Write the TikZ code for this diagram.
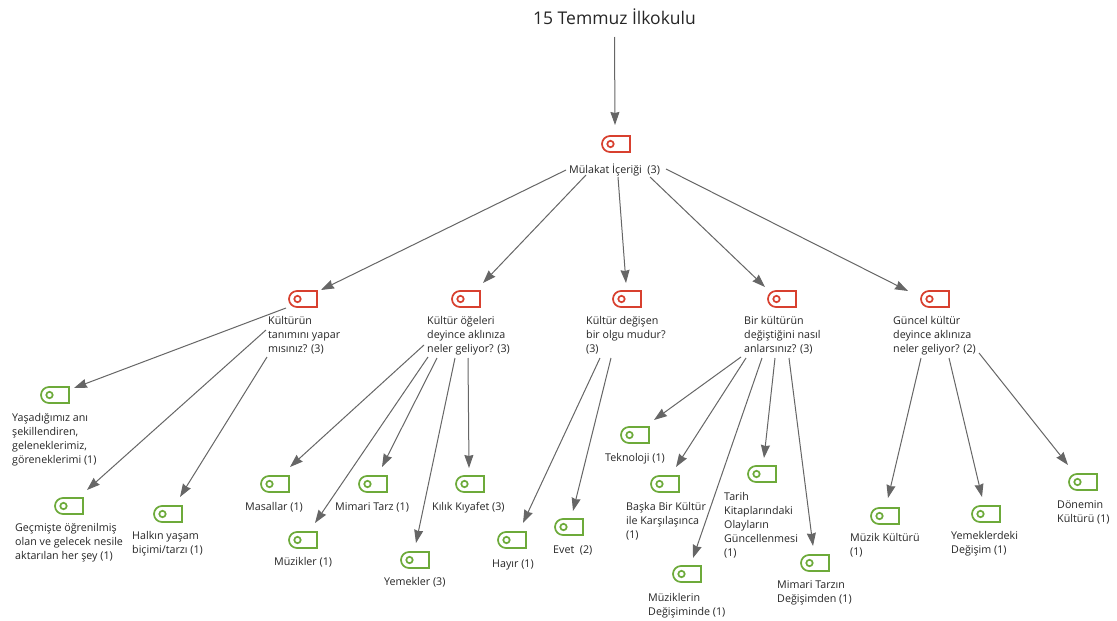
\documentclass[tikz,border=0pt]{standalone}
\usepackage{fontspec}
\setmainfont{Open Sans}
\usetikzlibrary{arrows.meta}
\definecolor{tagred}{HTML}{D8402F}
\definecolor{taggreen}{HTML}{6DAA3A}
\definecolor{linkgray}{HTML}{666666}
\definecolor{txt}{HTML}{262626}
\tikzset{
  lbl/.style={anchor=north west,inner xsep=0pt,inner ysep=3.5pt,align=left,font=\fontsize{10.7}{13.8}\selectfont,text=txt},
  iconbox/.style={minimum width=28pt,minimum height=16pt,inner sep=0pt},
  conn/.style={draw=linkgray,line width=1pt,-{Stealth[length=13pt,width=9pt,inset=1pt]}}
}
\newcommand{\tagicon}[4]{%
  \node[iconbox] (#1) at (#2,#3) {};
  \draw[#4,line width=1.7pt] ([shift={(-6,-8)}]#1.center) -- ([shift={(14,-8)}]#1.center) -- ([shift={(14,8)}]#1.center) -- ([shift={(-6,8)}]#1.center) arc[start angle=-90,end angle=-270,radius=8pt] -- cycle;
  \draw[#4,line width=1.7pt] ([shift={(-5.5,0)}]#1.center) circle[radius=3.2pt];
}
\newcommand{\linkit}[6]{\draw[conn] ([shift={(#2,#3)}]#1) -- ([shift={(#5,#6)}]#4.center);}
\begin{document}
\begin{tikzpicture}[x=1pt,y=-1pt]
\useasboundingbox (0,0) rectangle (1117,621);
\fill[white] (0,0) rectangle (1117,621);
\node[inner sep=0pt,font=\fontsize{17.5}{20}\selectfont,text=txt] (t) at (614.5,17) {15 Temmuz İlkokulu};
\tagicon{r}{616}{144}{tagred}
\node[lbl] (m) at (569,160) {Mülakat İçeriği~ (3)};
\tagicon{k1}{303}{299}{tagred}
\tagicon{k2}{466}{299}{tagred}
\tagicon{k3}{627}{299}{tagred}
\tagicon{k4}{782}{299}{tagred}
\tagicon{k5}{935}{299}{tagred}
\node[lbl] (l1) at (268,313) {Kültürün\\tanımını yapar\\mısınız? (3)};
\node[lbl] (l2) at (427,313) {Kültür öğeleri\\deyince aklınıza\\neler geliyor? (3)};
\node[lbl] (l3) at (586,313) {Kültür değişen\\bir olgu mudur?\\(3)};
\node[lbl] (l4) at (744,313) {Bir kültürün\\değiştiğini nasıl\\anlarsınız? (3)};
\node[lbl] (l5) at (893,313) {Güncel kültür\\deyince aklınıza\\neler geliyor? (2)};
\tagicon{a1}{55}{395}{taggreen}
\tagicon{a2}{69}{506}{taggreen}
\tagicon{a3}{168}{514}{taggreen}
\node[lbl] (la1) at (12,410) {Yaşadığımız anı\\şekillendiren,\\geleneklerimiz,\\göreneklerimi (1)};
\node[lbl] (la2) at (15,520) {Geçmişte öğrenilmiş\\olan ve gelecek nesile\\aktarılan her şey (1)};
\node[lbl] (la3) at (132,528) {Halkın yaşam\\biçimi/tarzı (1)};
\tagicon{b1}{275}{484}{taggreen}
\tagicon{b2}{303}{540}{taggreen}
\tagicon{b3}{373}{484}{taggreen}
\tagicon{b4}{415}{560}{taggreen}
\tagicon{b5}{470}{484}{taggreen}
\node[lbl] (lb1) at (245,499) {Masallar (1)};
\node[lbl] (lb2) at (274,554) {Müzikler (1)};
\node[lbl] (lb3) at (335,499) {Mimari Tarz (1)};
\node[lbl] (lb4) at (384,574) {Yemekler (3)};
\node[lbl] (lb5) at (432,499) {Kılık Kıyafet (3)};
\tagicon{c1}{512}{540}{taggreen}
\tagicon{c2}{569}{527}{taggreen}
\node[lbl] (lc1) at (492,556) {Hayır (1)};
\node[lbl] (lc2) at (553,542) {Evet~ (2)};
\tagicon{d1}{635}{435}{taggreen}
\tagicon{d2}{665}{484}{taggreen}
\tagicon{d3}{762}{474}{taggreen}
\tagicon{d4}{687}{574}{taggreen}
\tagicon{d5}{815}{563}{taggreen}
\node[lbl] (ld1) at (605,450) {Teknoloji (1)};
\node[lbl] (ld2) at (626,499) {Başka Bir Kültür\\ile Karşılaşınca\\(1)};
\node[lbl] (ld3) at (724,489) {Tarih\\Kitaplarındaki\\Olayların\\Güncellenmesi\\(1)};
\node[lbl] (ld4) at (648,590) {Müziklerin\\Değişiminde (1)};
\node[lbl] (ld5) at (777,577) {Mimari Tarzın\\Değişimden (1)};
\tagicon{e1}{885}{516}{taggreen}
\tagicon{e2}{986}{514}{taggreen}
\tagicon{e3}{1083}{482}{taggreen}
\node[lbl] (le1) at (850,530) {Müzik Kültürü\\(1)};
\node[lbl] (le2) at (951,528) {Yemeklerdeki\\Değişim (1)};
\node[lbl] (le3) at (1057,497) {Dönemin\\Kültürü (1)};
\linkit{t.center}{0}{20}{r}{-1}{-19}
\linkit{m.north west}{-3}{10}{k1}{18}{-9}
\linkit{m.north west}{17}{15}{k2}{17}{-16}
\linkit{m.north west}{49}{17}{k3}{-1}{-16}
\linkit{m.north west}{81}{17}{k4}{-17}{-12}
\linkit{m.north west}{97}{9}{k5}{-27}{-8}
\linkit{l1.north west}{18}{-5}{a1}{19}{-7}
\linkit{l1.north west}{-2}{17}{a2}{18}{-16}
\linkit{l1.north west}{-1}{44}{a3}{12}{-17}
\linkit{l2.north west}{-3}{32}{b1}{15}{-17}
\linkit{l2.north west}{1}{44}{b2}{12}{-17}
\linkit{l2.north west}{10}{45}{b3}{9}{-17}
\linkit{l2.north west}{28}{45}{b4}{1}{-17}
\linkit{l2.north west}{41}{45}{b5}{-1}{-16}
\linkit{l3.north west}{14}{45}{c1}{11}{-17}
\linkit{l3.north west}{25}{45}{c2}{4}{-16}
\linkit{l4.north west}{-3}{44}{d1}{19}{-15}
\linkit{l4.north west}{2}{45}{d2}{11}{-17}
\linkit{l4.north west}{31}{45}{d3}{2}{-16}
\linkit{l4.north west}{18}{45}{d4}{6}{-16}
\linkit{l4.north west}{45}{45}{d5}{-2}{-17}
\linkit{l5.north west}{28}{45}{e1}{3}{-18}
\linkit{l5.north west}{56}{45}{e2}{-4}{-17}
\linkit{l5.north west}{86}{40}{e3}{-15}{-17}
\end{tikzpicture}
\end{document}
